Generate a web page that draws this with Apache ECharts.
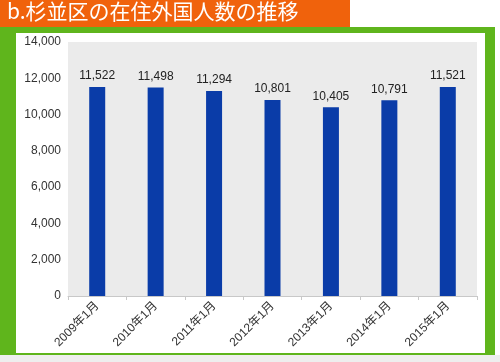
<!DOCTYPE html>
<html><head><meta charset="utf-8">
<script src="https://cdn.jsdelivr.net/npm/echarts@6/dist/echarts.min.js"></script>
<style>html,body{margin:0;padding:0;background:#fff}#c{width:500px;height:362px}</style>
</head><body><div id="c"></div>
<script>
const titleText = 'b.杉並区の在住外国人数の推移';
const categories = ['2009年1月','2010年1月','2011年1月','2012年1月','2013年1月','2014年1月','2015年1月'];
const residents = [11522, 11498, 11294, 10801, 10405, 10791, 11521];
const yTicks = [0, 2000, 4000, 6000, 8000, 10000, 12000, 14000];

const chart = echarts.init(document.getElementById('c'), null, {renderer:'canvas'});
const fmt = v => String(v).replace(/\B(?=(\d{3})+(?!\d))/g, ',');
chart.setOption({
  animation:false,
  backgroundColor:'#ffffff',
  graphic:[
    {type:'rect', z:-10, shape:{x:0,y:355,width:500,height:7}, style:{fill:'#eeeeee'}},
    {type:'rect', z:-9, shape:{x:0,y:27,width:495,height:328}, style:{fill:'#5fb51c'}},
    {type:'rect', z:-8, shape:{x:16,y:33,width:469,height:320}, style:{fill:'#ffffff'}},
    {type:'rect', z:-7, shape:{x:0,y:0,width:350,height:27}, style:{fill:'#f0620c'}},
    {type:'text', z:10, left:7, top:1, style:{text:titleText, fill:'#ffffff', font:'21px "Noto Sans CJK JP", sans-serif'}}
  ],
  grid:{left:68, right:23, top:42, bottom:66, show:true, backgroundColor:'#ebebeb', borderWidth:0},
  xAxis:{
    type:'category', data:categories,
    axisLine:{lineStyle:{color:'#c8c8c8'}},
    axisTick:{show:true, length:4, lineStyle:{color:'#c8c8c8'}},
    axisLabel:{rotate:45, color:'#333', fontSize:12, fontFamily:'"Liberation Sans", "Noto Sans CJK JP", sans-serif', margin:8}
  },
  yAxis:{
    type:'value', min:yTicks[0], max:yTicks[yTicks.length-1], interval:2000,
    axisLine:{show:false}, axisTick:{show:false}, splitLine:{show:false},
    axisLabel:{color:'#333', fontSize:12, margin:7, fontFamily:'"Liberation Sans", sans-serif', formatter:fmt}
  },
  series:[{
    type:'bar', data:residents, barWidth:16,
    itemStyle:{color:'#0a3ca8'},
    label:{show:true, position:'top', distance:5, color:'#222', fontSize:12, fontFamily:'"Liberation Sans", sans-serif', formatter:p=>fmt(p.value)}
  }]
});
</script></body></html>
